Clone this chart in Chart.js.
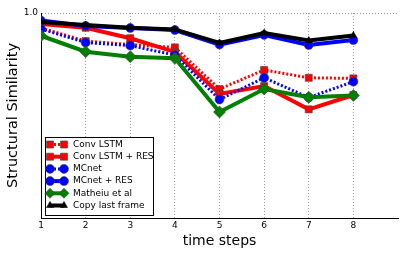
<!DOCTYPE html>
<html>
<head>
<meta charset="utf-8">
<script src="https://cdn.jsdelivr.net/npm/chart.js@4.4.1/dist/chart.umd.min.js"></script>
<style>
  html, body { margin: 0; padding: 0; background: #fff; }
  #wrap { width: 407px; height: 255px; }
</style>
</head>
<body>
<div id="wrap"><canvas id="myChart" width="407" height="255"></canvas></div>
<script>
// --- donnees ---
const timeSteps = [1, 2, 3, 4, 5, 6, 7, 8];
const convLstm = [0.927, 0.863, 0.846, 0.832, 0.629, 0.722, 0.684, 0.681];
const convLstmRes = [0.946, 0.928, 0.877, 0.810, 0.605, 0.644, 0.530, 0.600];
const mcnet = [0.922, 0.856, 0.841, 0.795, 0.578, 0.684, 0.588, 0.665];
const mcnetRes = [0.963, 0.937, 0.927, 0.917, 0.846, 0.893, 0.844, 0.868];
const matheiu = [0.889, 0.811, 0.787, 0.779, 0.517, 0.629, 0.589, 0.598];
const copyLast = [0.956, 0.941, 0.928, 0.920, 0.854, 0.902, 0.866, 0.890];
const yTicks = [1.0];

const font = "'DejaVu Sans', sans-serif";

function pts(values) {
  return timeSteps.map((t, i) => ({ x: t, y: values[i] }));
}

const series = [
  { label: 'Conv LSTM', data: convLstm, color: '#ff0000', dash: [2, 2], width: 3, style: 'rect', radius: 5 },
  { label: 'Conv LSTM + RES', data: convLstmRes, color: '#ff0000', dash: [], width: 4, style: 'rect', radius: 5 },
  { label: 'MCnet', data: mcnet, color: '#0000ff', dash: [2, 2], width: 3, style: 'circle', radius: 4.5 },
  { label: 'MCnet + RES', data: mcnetRes, color: '#0000ff', dash: [], width: 4, style: 'circle', radius: 4.5 },
  { label: 'Matheiu et al', data: matheiu, color: '#008000', dash: [], width: 4, style: 'rectRot', radius: 6 },
  { label: 'Copy last frame', data: copyLast, color: '#000000', dash: [], width: 4, style: 'triangle', radius: 4 }
];

const datasets = series.map((s, i) => ({
  label: s.label,
  data: pts(s.data),
  borderColor: s.color,
  backgroundColor: s.color,
  borderWidth: s.width,
  borderDash: s.dash,
  pointStyle: s.style,
  pointRadius: s.radius,
  pointBackgroundColor: s.color,
  pointBorderColor: s.color === '#000000' ? '#000' : '#444',
  pointBorderWidth: 0.6,
  fill: false,
  tension: 0,
  order: series.length - 1 - i
}));

// legende dessinee dans la zone du graphique (en bas a gauche)
const legendInside = {
  id: 'legendInside',
  afterDraw(chart) {
    const ctx = chart.ctx;
    const x0 = 45, y0 = 137, w = 108, h = 78;
    ctx.save();
    ctx.fillStyle = '#fff';
    ctx.fillRect(x0, y0, w, h);
    ctx.strokeStyle = '#000';
    ctx.lineWidth = 1;
    ctx.strokeRect(x0 + 0.5, y0 + 0.5, w, h);
    series.forEach((s, i) => {
      const y = y0 + 7.5 + i * 12.2;
      ctx.strokeStyle = s.color;
      ctx.lineWidth = s.width;
      ctx.setLineDash(s.dash);
      ctx.beginPath();
      ctx.moveTo(50, y);
      ctx.lineTo(64, y);
      ctx.stroke();
      ctx.setLineDash([]);
      ctx.fillStyle = s.color;
      ctx.strokeStyle = s.color === '#000000' ? '#000' : '#444';
      ctx.lineWidth = 0.6;
      const r = Math.min(s.radius, 5);
      [50, 64].forEach(px => {
        Chart.helpers.drawPoint(ctx, { pointStyle: s.style, radius: r, rotation: 0, borderWidth: 0.6 }, px, y);
      });
      ctx.fillStyle = '#000';
      ctx.font = '9px ' + font;
      ctx.textBaseline = 'middle';
      ctx.textAlign = 'left';
      ctx.fillText(s.label, 73, y);
    });
    ctx.restore();
  }
};

const ctx = document.getElementById('myChart').getContext('2d');
const myChart = new Chart(ctx, {
  type: 'line',
  data: { datasets: datasets },
  options: {
    responsive: false,
    animation: false,
    layout: { padding: { top: 13, right: 9, left: 0, bottom: 0 } },
    plugins: { legend: { display: false }, tooltip: { enabled: false } },
    scales: {
      x: {
        type: 'linear',
        min: 1,
        max: 9,
        afterFit(scale) { scale.height = 37; },
        ticks: {
          stepSize: 1,
          color: '#000',
          font: { family: font, size: 9 },
          padding: 2,
          maxRotation: 0,
          callback: v => (v >= 9 ? '' : String(v))
        },
        grid: {
          color: c => (c.tick && (c.tick.value === 1 || c.tick.value === 9) ? 'rgba(0,0,0,0)' : '#999'),
          lineWidth: 1,
          drawTicks: false
        },
        border: { display: true, color: '#000', width: 1, dash: [1, 2] },
        title: {
          display: true,
          text: 'time steps',
          color: '#000',
          font: { family: font, size: 14 },
          padding: { top: 0, bottom: 5 }
        }
      },
      y: {
        min: 0,
        max: 1,
        afterFit(scale) { scale.width = 41; },
        afterBuildTicks(scale) { scale.ticks = yTicks.map(v => ({ value: v })); },
        ticks: {
          color: '#000',
          font: { family: font, size: 9 },
          padding: 3,
          callback: v => v.toFixed(1)
        },
        grid: { color: '#999', lineWidth: 1, drawTicks: false },
        border: { display: true, color: '#000', width: 1, dash: [1, 2] },
        title: {
          display: true,
          text: 'Structural Similarity',
          color: '#000',
          font: { family: font, size: 14.5 },
          padding: { top: 5, bottom: 2 }
        }
      }
    }
  },
  plugins: [legendInside]
});
</script>
</body>
</html>
